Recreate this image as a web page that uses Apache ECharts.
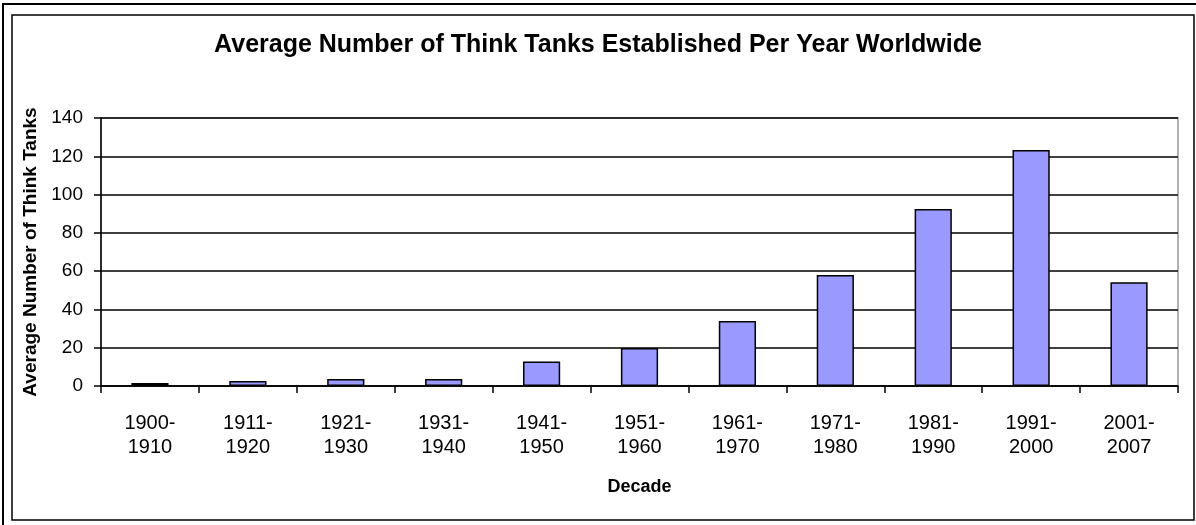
<!DOCTYPE html>
<html>
<head>
<meta charset="utf-8">
<script src="https://cdn.jsdelivr.net/npm/echarts@6/dist/echarts.min.js"></script>
<style>html,body{margin:0;padding:0;background:#fff;}#c{width:1196px;height:525px;}</style>
</head>
<body>
<div id="c"></div>
<script>
var categories = ['1900-\n1910','1911-\n1920','1921-\n1930','1931-\n1940','1941-\n1950','1951-\n1960','1961-\n1970','1971-\n1980','1981-\n1990','1991-\n2000','2001-\n2007'];
var values = [1.6, 2.6, 3.6, 3.6, 12.8, 19.8, 34, 58, 92.4, 123.3, 54.2];
var yTicks = [0, 20, 40, 60, 80, 100, 120, 140];

var chart = echarts.init(document.getElementById('c'));
var font = 'Liberation Sans, Arial, sans-serif';
chart.setOption({
  animation: false,
  backgroundColor: '#fff',
  title: {
    text: 'Average Number of Think Tanks Established Per Year Worldwide',
    left: 'center', top: 28,
    textStyle: { fontFamily: font, fontSize: 25, fontWeight: 'bold', color: '#000' }
  },
  graphic: [
    { type: 'rect', shape: { x: 3, y: 4, width: 1200, height: 530 }, style: { fill: 'none', stroke: '#000', lineWidth: 2 }, silent: true },
    { type: 'rect', shape: { x: 12, y: 15, width: 1182, height: 505 }, style: { fill: 'none', stroke: '#000', lineWidth: 1.5 }, silent: true }
  ],
  grid: { left: 101, right: 18, top: 118, bottom: 139, show: true, borderColor: '#999', borderWidth: 1.5, backgroundColor: '#fff' },
  xAxis: {
    type: 'category', data: categories,
    name: 'Decade', nameLocation: 'middle', nameGap: 92,
    nameTextStyle: { fontFamily: font, fontSize: 18, fontWeight: 'bold', color: '#000' },
    axisLine: { lineStyle: { color: '#000', width: 1.5 } },
    axisTick: { show: true, length: 7, lineStyle: { color: '#000', width: 1.5 } },
    axisLabel: { fontFamily: font, fontSize: 20, color: '#000', lineHeight: 24, margin: 25, interval: 0 }
  },
  yAxis: {
    type: 'value', min: 0, max: 140, interval: 20,
    name: 'Average Number of Think Tanks', nameLocation: 'middle', nameGap: 57,
    nameTextStyle: { fontFamily: font, fontSize: 19, fontWeight: 'bold', color: '#000' },
    axisLine: { show: true, lineStyle: { color: '#000', width: 1.5 } },
    axisTick: { show: true, length: 7, lineStyle: { color: '#000', width: 1.5 } },
    axisLabel: { fontFamily: font, fontSize: 19, color: '#000', margin: 18,
      formatter: function (v) { return yTicks.indexOf(v) >= 0 ? String(v) : ''; } },
    splitLine: { show: true, lineStyle: { color: '#000', width: 1.5 } }
  },
  series: [{
    type: 'bar', data: values, barCategoryGap: '62%',
    itemStyle: { color: '#9999FF', borderColor: '#000', borderWidth: 1.5 }
  }]
});
</script>
</body>
</html>
